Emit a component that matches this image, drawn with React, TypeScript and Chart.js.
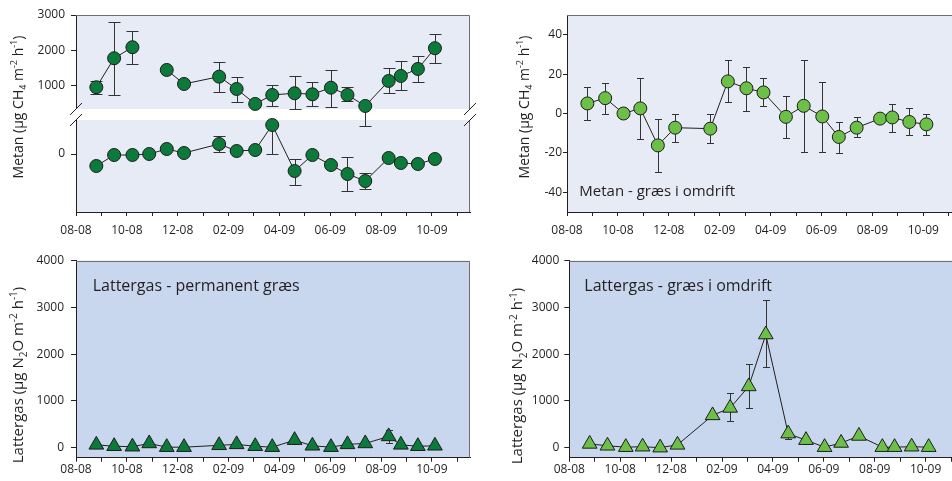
import React, { useEffect, useRef } from 'react';
import { Chart, registerables } from 'chart.js';
Chart.register(...registerables);

const FONT = '"Open Sans", "DejaVu Sans", sans-serif';
const TEXT = '#231f20';

// x positions: months since 08-2008
const dates = [0.8, 1.5, 2.22, 2.88, 3.57, 4.25, 5.63, 6.32, 7.05, 7.72, 8.6, 9.3, 10.03, 10.68, 11.38, 12.3, 12.78, 13.45, 14.12];
const monthLabels = ['08-08', '', '10-08', '', '12-08', '', '02-09', '', '04-09', '', '06-09', '', '08-09', '', '10-09', ''];

// Metan - permanent græs (upper segment of broken axis)
const metanPermHigh = [955, 1776, 2088, null, 1445, 1048, 1255, 906, 482, 737, 785, 756, 943, 737, 425, 1133, 1275, 1473, 2060];
const metanPermHighUp = [1132, 2812, 2547, null, null, null, 1679, 1255, null, 1010, 1274, 1095, 1444, 953, null, 1510, 1708, 1850, 2472];
const metanPermHighLo = [755, 736, 1604, null, null, null, 830, 528, null, 425, 345, 425, 387, 566, -140, 783, 877, 1113, 1651];
// lower segment
const metanPermLow = [-12, -1, -1, 0, 5, 1, 10, 3, 4, 29, -17, -1, -11, -20, -27, -4, -9, -10, -5];
const metanPermLowUp = [null, null, null, null, null, null, 18, null, null, null, -5, null, null, -3, -19, null, null, null, null];
const metanPermLowLo = [null, null, null, null, null, null, 2, null, null, 0, -31, null, null, -37, -35, null, null, null, null];
const permHighTicks = [1000, 2000, 3000];
const permLowTicks = [0];

// Metan - græs i omdrift
const metanOmdrift = [5.1, 7.8, 0, 2.6, -16.2, -7.2, -7.7, 16.3, 12.8, 10.7, -1.7, 3.9, -1.5, -11.9, -7.2, -2.6, -2, -4.3, -5.5];
const metanOmdriftUp = [13.6, 15.3, null, 18, -2.6, 0, 0, 27.2, 23.8, 18, 9, 27.2, 16.2, -4.3, -2, null, 4.8, 2.7, 0];
const metanOmdriftLo = [-3.4, 0, null, -13.1, -29.6, -14.3, -15.2, 5.6, 1.4, 3.6, -12.3, -19.6, -19.4, -19.9, -11.9, null, -9.4, -10.9, -10.9];
const metanOmdriftTicks = [-40, -20, 0, 20, 40];

// Lattergas - permanent græs
const lattergasPerm = [60, 30, 20, 90, 10, 10, 50, 70, 30, 10, 160, 40, 10, 70, 90, 240, 60, 30, 40];
const lattergasPermUp = [null, null, null, null, null, null, null, null, null, null, null, null, null, null, null, 385, null, null, null];
const lattergasPermLo = [null, null, null, null, null, null, null, null, null, null, 75, null, null, null, null, 98, null, null, null];

// Lattergas - græs i omdrift
const lattergasOmdrift = [80, 40, 10, 20, 0, 60, 690, 850, 1310, 2420, 300, 160, 10, 100, 250, 10, 10, 20, 10];
const lattergasOmdriftUp = [null, null, null, null, null, null, null, 1164, 1784, 3159, null, null, null, null, null, null, null, null, null];
const lattergasOmdriftLo = [null, null, null, null, null, null, null, 571, 843, 1733, 186, 79, null, null, null, null, null, null, null];
const n2oTicks = [0, 1000, 2000, 3000, 4000];

const metanTitle = [{ t: 'Metan (µg CH' }, { t: '4', k: 'sub' }, { t: ' m' }, { t: '-2', k: 'sup' }, { t: ' h' }, { t: '-1', k: 'sup' }, { t: ')' }];
const n2oTitle = [{ t: 'Lattergas (µg N' }, { t: '2', k: 'sub' }, { t: 'O m' }, { t: '-2', k: 'sup' }, { t: ' h' }, { t: '-1', k: 'sup' }, { t: ')' }];

const DARK = '#0b7a3b';
const LIGHT = '#6cbf47';
const BG_TOP = '#e7ebf6';
const BG_BOT = '#c8d6ee';

function drawRich(ctx, segs, cx, cy, size) {
  ctx.save();
  ctx.translate(cx, cy);
  ctx.rotate(-Math.PI / 2);
  ctx.fillStyle = TEXT;
  ctx.textBaseline = 'alphabetic';
  ctx.textAlign = 'left';
  const small = Math.round(size * 0.64);
  const fontOf = (s) => `${s.k ? small : size}px ${FONT}`;
  let total = 0;
  for (const s of segs) { ctx.font = fontOf(s); total += ctx.measureText(s.t).width; }
  let x = -total / 2;
  const base = size * 0.36;
  for (const s of segs) {
    ctx.font = fontOf(s);
    const dy = s.k === 'sub' ? size * 0.28 : s.k === 'sup' ? -size * 0.38 : 0;
    ctx.fillText(s.t, x, base + dy);
    x += ctx.measureText(s.t).width;
  }
  ctx.restore();
}

function makeDecor(spec) {
  return {
    id: 'decor',
    beforeDraw(chart) {
      const { ctx, chartArea: a } = chart;
      ctx.save();
      ctx.fillStyle = spec.bg;
      ctx.fillRect(a.left, a.top, a.right - a.left, a.bottom - a.top);
      ctx.restore();
    },
    beforeDatasetsDraw(chart) {
      const { ctx, chartArea: a } = chart;
      ctx.save();
      ctx.strokeStyle = '#6d6e71';
      ctx.lineWidth = 1;
      ctx.beginPath();
      ctx.moveTo(a.left, Math.round(a.top) + 0.5);
      ctx.lineTo(Math.round(a.right) - 0.5, Math.round(a.top) + 0.5);
      ctx.lineTo(Math.round(a.right) - 0.5, a.bottom);
      ctx.stroke();
      if (spec.brk) {
        const yTop = chart.scales[spec.brk.hi].getPixelForValue(spec.brk.value);
        const yBot = chart.scales[spec.brk.lo].top;
        ctx.fillStyle = '#ffffff';
        ctx.fillRect(a.left - 2, yTop, a.right - a.left + 4, yBot - yTop);
        ctx.strokeStyle = TEXT;
        ctx.beginPath();
        for (const x of [a.left, a.right]) {
          for (const y of [yTop, yBot]) {
            ctx.moveTo(x - 6, y + 6);
            ctx.lineTo(x + 6, y - 6);
          }
        }
        ctx.stroke();
      }
      const xs = chart.scales.x;
      ctx.strokeStyle = '#333333';
      ctx.lineWidth = 1;
      spec.series.forEach((s) => {
        const ys = chart.scales[s.axis];
        ctx.beginPath();
        dates.forEach((d, i) => {
          const v = s.values[i];
          if (v == null) return;
          const x = Math.round(xs.getPixelForValue(d)) + 0.5;
          const yc = ys.getPixelForValue(v);
          for (const e of [s.up ? s.up[i] : null, s.lo ? s.lo[i] : null]) {
            if (e == null) continue;
            const ye = Math.round(ys.getPixelForValue(e)) + 0.5;
            ctx.moveTo(x, yc);
            ctx.lineTo(x, ye);
            ctx.moveTo(x - spec.cap, ye);
            ctx.lineTo(x + spec.cap, ye);
          }
        });
        ctx.stroke();
      });
      ctx.restore();
    },
    afterDraw(chart) {
      const { ctx } = chart;
      drawRich(ctx, spec.title, spec.titleX - spec.x, spec.titleY - spec.y, spec.titleSize);
      if (spec.note) {
        ctx.save();
        ctx.fillStyle = TEXT;
        ctx.font = `${spec.noteSize}px ${FONT}`;
        ctx.textBaseline = 'alphabetic';
        ctx.textAlign = 'left';
        ctx.fillText(spec.note, spec.noteX - spec.x, spec.noteY - spec.y);
        ctx.restore();
      }
    },
  };
}

function buildConfig(spec) {
  const scales = {
    x: {
      type: 'linear',
      position: 'bottom',
      min: 0,
      max: 15.5,
      afterBuildTicks: (s) => { s.ticks = monthLabels.map((_, i) => ({ value: i })); },
      afterFit: (s) => { s.height = spec.xHeight; },
      ticks: {
        autoSkip: false, maxRotation: 0, minRotation: 0, padding: spec.xPad, color: TEXT,
        font: { family: FONT, size: 12 },
        callback: (v) => monthLabels[v] ?? '',
      },
      grid: { drawOnChartArea: false, drawTicks: true, tickLength: 4, tickColor: TEXT, tickWidth: 1 },
      border: { display: true, color: TEXT, width: 1 },
    },
  };
  spec.yAxes.forEach((ax) => {
    const sc = {
      type: 'linear',
      position: 'left',
      min: ax.min,
      max: ax.max,
      afterBuildTicks: (s) => { s.ticks = ax.ticks.map((v) => ({ value: v })); },
      afterFit: (s) => { s.width = spec.yWidth; },
      ticks: { padding: spec.yPad, color: TEXT, font: { family: FONT, size: 12 }, callback: (v) => String(v) },
      grid: { drawOnChartArea: false, drawTicks: true, tickLength: spec.yLen, tickColor: TEXT, tickWidth: 1 },
      border: { display: true, color: TEXT, width: 1 },
    };
    if (spec.yAxes.length > 1) { sc.stack = 'left'; sc.stackWeight = ax.weight; }
    scales[ax.id] = sc;
  });
  return {
    type: 'line',
    data: {
      datasets: spec.series.map((s) => ({
        data: dates.map((d, i) => ({ x: d, y: s.values[i] })),
        yAxisID: s.axis,
        xAxisID: 'x',
        borderColor: '#231f20',
        borderWidth: 1,
        pointStyle: spec.marker,
        pointRadius: spec.radius,
        pointBackgroundColor: spec.color,
        pointBorderColor: '#1d1d1b',
        pointBorderWidth: 1,
        spanGaps: false,
        tension: 0,
        clip: false,
      })),
    },
    options: {
      responsive: false,
      animation: false,
      events: [],
      layout: { autoPadding: false, padding: { left: 0, top: spec.padTop, right: spec.padRight, bottom: 0 } },
      plugins: { legend: { display: false }, tooltip: { enabled: false } },
      scales,
    },
    plugins: [makeDecor(spec)],
  };
}

const specs = [
  {
    key: 'tl', x: 0, y: 0, w: 476, h: 240, padTop: 15, padRight: 6, yWidth: 76, xHeight: 28, xPad: 7, yPad: 6, yLen: 5,
    bg: BG_TOP, marker: 'circle', radius: 6.5, color: DARK, cap: 6,
    yAxes: [
      { id: 'yLow', min: -58, max: 34, ticks: permLowTicks, weight: 92 },
      { id: 'yHigh', min: 28, max: 3000, ticks: permHighTicks, weight: 105 },
    ],
    brk: { hi: 'yHigh', lo: 'yLow', value: 340 },
    series: [
      { values: metanPermHigh, up: metanPermHighUp, lo: metanPermHighLo, axis: 'yHigh' },
      { values: metanPermLow, up: metanPermLowUp, lo: metanPermLowLo, axis: 'yLow' },
    ],
    title: metanTitle, titleX: 17.5, titleY: 107, titleSize: 14,
  },
  {
    key: 'tr', x: 476, y: 0, w: 492, h: 240, padTop: 15, padRight: 6.5, yWidth: 91, xHeight: 28, xPad: 7, yPad: 1, yLen: 4,
    bg: BG_TOP, marker: 'circle', radius: 6.5, color: LIGHT, cap: 3.5,
    yAxes: [{ id: 'y', min: -50, max: 50, ticks: metanOmdriftTicks }],
    series: [{ values: metanOmdrift, up: metanOmdriftUp, lo: metanOmdriftLo, axis: 'y' }],
    title: metanTitle, titleX: 523.5, titleY: 107, titleSize: 14,
    note: 'Metan - græs i omdrift', noteX: 579.3, noteY: 195.5, noteSize: 15,
  },
  {
    key: 'bl', x: 0, y: 240, w: 476, h: 241, padTop: 20.7, padRight: 6, yWidth: 76, xHeight: 23.3, xPad: 1, yPad: 7, yLen: 5,
    bg: BG_BOT, marker: 'triangle', radius: 8.5, color: DARK, cap: 3.5,
    yAxes: [{ id: 'y', min: -215, max: 4000, ticks: n2oTicks }],
    series: [{ values: lattergasPerm, up: lattergasPermUp, lo: lattergasPermLo, axis: 'y' }],
    title: n2oTitle, titleX: 17.5, titleY: 375, titleSize: 15,
    note: 'Lattergas - permanent græs', noteX: 92.7, noteY: 291, noteSize: 16,
  },
  {
    key: 'br', x: 476, y: 240, w: 492, h: 241, padTop: 20.7, padRight: 4.2, yWidth: 93.3, xHeight: 23.3, xPad: 1, yPad: 5, yLen: 5,
    bg: BG_BOT, marker: 'triangle', radius: 8.5, color: LIGHT, cap: 3.5,
    yAxes: [{ id: 'y', min: -215, max: 4000, ticks: n2oTicks }],
    series: [{ values: lattergasOmdrift, up: lattergasOmdriftUp, lo: lattergasOmdriftLo, axis: 'y' }],
    title: n2oTitle, titleX: 517, titleY: 376, titleSize: 15,
    note: 'Lattergas - græs i omdrift', noteX: 584.3, noteY: 291, noteSize: 16,
  },
];

function Panel({ spec }) {
  const ref = useRef(null);
  useEffect(() => {
    const chart = new Chart(ref.current, buildConfig(spec));
    return () => chart.destroy();
  }, [spec]);
  return (
    <canvas
      ref={ref}
      width={spec.w}
      height={spec.h}
      style={{ position: 'absolute', left: spec.x, top: spec.y, width: spec.w, height: spec.h }}
    />
  );
}

export default function App() {
  return (
    <div style={{ position: 'fixed', left: 0, top: 0, width: 952, height: 481, overflow: 'hidden', background: '#ffffff' }}>
      {specs.map((s) => <Panel key={s.key} spec={s} />)}
    </div>
  );
}
